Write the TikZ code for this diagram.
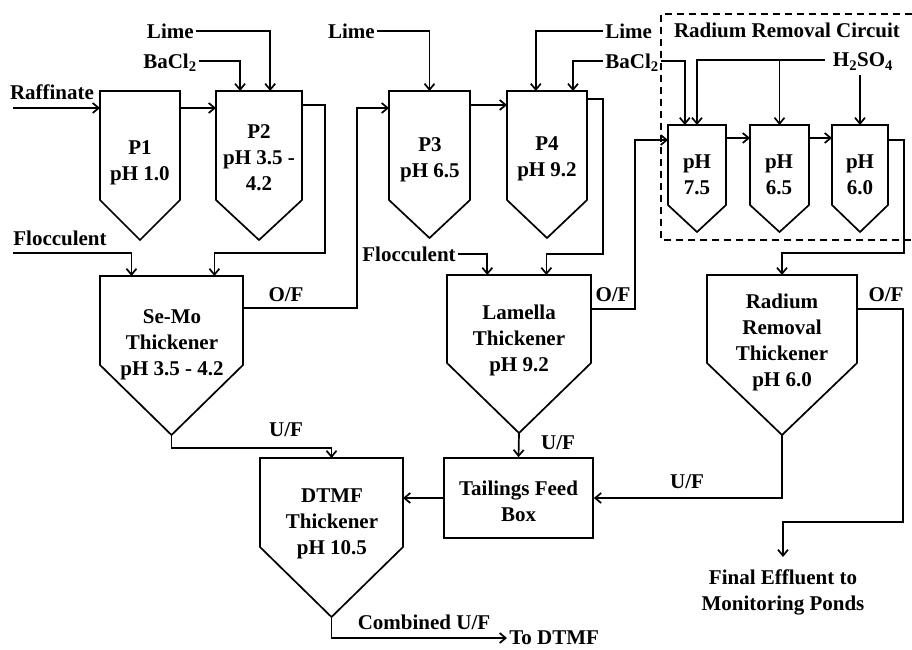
\documentclass[tikz,border=0pt]{standalone}
\usepackage{fontspec}
\setmainfont{Liberation Serif}
\usetikzlibrary{arrows.meta,calc}
\newcommand\mytank[6]{%
  \node[inner sep=0pt, outer sep=0pt, minimum width={#3-#2}, minimum height={#5-#4}] (#1) at ({(#2+#3)/2},{(#4+#5)/2}) {};
  \coordinate (#1-tip) at ({(#2+#3)/2},#6);
  \draw[tankline] (#1.north west) -- (#1.north east) -- (#1.south east) -- (#1-tip) -- (#1.south west) -- cycle;
}
\begin{document}
\begin{tikzpicture}[x=1pt,y=-1pt, line width=1.7pt,
  arr/.style={-{Straight Barb[length=6pt,width=10pt]}, line width=1.7pt},
  lbl/.style={font=\fontsize{21}{26}\selectfont\bfseries, inner sep=1.5pt, text depth=0pt},
  lbl2/.style={font=\fontsize{21}{26}\selectfont\bfseries, inner sep=1.5pt, align=center},
  tankline/.style={line width=1.7pt, line join=miter},
  ]
\useasboundingbox (0,0) rectangle (912,649);

% tanks
\mytank{P1}{100}{180}{91}{200}{240}
\mytank{P2}{216}{302}{91}{200}{240}
\mytank{P3}{389}{470}{91}{200}{238}
\mytank{P4}{507}{587}{91}{200}{238}
\mytank{A}{668}{726}{125}{205}{232}
\mytank{B}{750}{809}{125}{205}{232}
\mytank{C}{832}{888}{125}{205}{232}
\mytank{SM}{100}{243}{276}{365}{435}
\mytank{LT}{447}{591}{275}{363}{433}
\mytank{RT}{707}{857}{275}{363}{435}
\mytank{DT}{260}{403}{458}{547}{617}
\node[draw, line width=1.7pt, minimum width=149pt, minimum height=80pt, inner sep=0pt] (TFB) at (518.5,498) {};
\node[lbl2] at (518.5,501) {Tailings Feed\\Box};

% tank labels
\node[lbl2] at (140,163) {P1\\pH 1.0};
\node[lbl2] at (259,158) {P2\\pH 3.5 -\\4.2};
\node[lbl2] at (430,160) {P3\\pH 6.5};
\node[lbl2] at (547,159) {P4\\pH 9.2};
\node[lbl2] at (697,175) {pH\\7.5};
\node[lbl2] at (779,175) {pH\\6.5};
\node[lbl2] at (860,175) {pH\\6.0};
\node[lbl2] at (172,345) {Se-Mo\\Thickener\\pH 3.5 - 4.2};
\node[lbl2] at (519,340) {Lamella\\Thickener\\pH 9.2};
\node[lbl2] at (782,342) {Radium\\Removal\\Thickener\\pH 6.0};
\node[lbl2] at (332,524) {DTMF\\Thickener\\pH 10.5};

% feed labels
\node[lbl] (raff) at (52,92) {Raffinate};
\coordinate (raffin) at (13,108);
\node[lbl, anchor=east] (lime1) at (196,31) {Lime};
\node[lbl, anchor=east] (bacl1) at (199,61) {BaCl\textsubscript{2}};
\node[lbl] (floc1) at (60,238) {Flocculent};
\coordinate (floc1in) at (13,253);
\node[lbl, anchor=east] (lime2) at (377,31) {Lime};
\node[lbl, anchor=west] (lime3) at (603,31) {Lime};
\node[lbl] (bacl3) at (632,61) {BaCl\textsubscript{2}};
\node[lbl] (floc2) at (409,254) {Flocculent};
\node[lbl] (circ) at (787,30) {Radium Removal Circuit};
\node[lbl, inner xsep=7pt] (h2so4) at (863,60) {H\textsubscript{2}SO\textsubscript{4}};
\coordinate (h2top) at (860,75);

% stream labels
\node[lbl] at (286,295) {O/F};
\node[lbl] at (613,295) {O/F};
\node[lbl] at (886,295) {O/F};
\node[lbl] at (286,430) {U/F};
\node[lbl] at (558,443) {U/F};
\node[lbl] at (687,482) {U/F};
\node[lbl] at (424,622) {Combined U/F};
\node[lbl, anchor=west] (todtmf) at (507,638) {To DTMF};
\node[lbl2, anchor=north, inner ysep=12pt] (eff) at (783,557) {Final Effluent to\\Monitoring Ponds};

% dashed circuit box
\draw[line width=1.7pt, dash pattern=on 7pt off 5pt] (912,14) -| (661,240) -- (912,240);

% connectors
\draw[arr] (lime1.east) -| ($(P2.north west)!0.63!(P2.north east)$);
\draw[arr] (bacl1.east) -| ($(P2.north west)!0.28!(P2.north east)$);
\draw[arr] (raffin) -- (raffin -| P1.west);
\draw[arr] ([yshift=-17pt]P1.north east) -- ([yshift=-17pt]P2.north west);
\draw[arr] ([yshift=-14pt]P2.north east) -| (325,253) -| ($(SM.north west)!0.8!(SM.north east)$);
\draw[arr] (floc1in) -| ($(SM.north west)!0.22!(SM.north east)$);
\draw[arr] ([yshift=-32pt]SM.north east) -| ([xshift=-32pt,yshift=-17pt]P3.north west) -- ([yshift=-17pt]P3.north west);
\draw[arr] (lime2.east) -| (P3.north);
\draw[arr] ([yshift=-14pt]P3.north east) -- ([yshift=-14pt]P4.north west);
\draw[arr] (lime3.west) -| ($(P4.north west)!0.36!(P4.north east)$);
\draw[arr] (bacl3.west) -| ($(P4.north west)!0.825!(P4.north east)$);
\draw[arr] (bacl3.east) -| ($(A.north west)!0.29!(A.north east)$);
\draw[arr] ([yshift=-8pt]P4.north east) -| (603,254) -| ($(LT.north west)!0.69!(LT.north east)$);
\draw[arr] (floc2.east) -| ($(LT.north west)!0.28!(LT.north east)$);
\draw[arr] ([yshift=-34pt]LT.north east) -| ([xshift=-33pt,yshift=-15pt]A.north west) -- ([yshift=-15pt]A.north west);
\draw[arr] (h2so4.west) -| (A.north);
\draw[arr] (h2so4.west -| B.north) -- (B.north);
\draw[arr] (h2top) -- (C.north);
\draw[arr] ([yshift=-13pt]A.north east) -- ([yshift=-13pt]B.north west);
\draw[arr] ([yshift=-13pt]B.north east) -- ([yshift=-13pt]C.north west);
\draw[arr] ([yshift=-15pt]C.north east) -| (904,253) -| (RT.north);
\draw[arr] ([yshift=-34pt]RT.north east) -| (903,522) -| (eff.north);
\draw[arr] (RT-tip) |- (TFB.east);
\draw[arr] (LT-tip) -- (TFB.north);
\draw[arr] (TFB.west) -- (TFB.west -| DT.east);
\draw[arr] (SM-tip) -- ++(0,13) -| (DT.north);
\draw[arr] (DT-tip) |- (todtmf.west);
\end{tikzpicture}
\end{document}
